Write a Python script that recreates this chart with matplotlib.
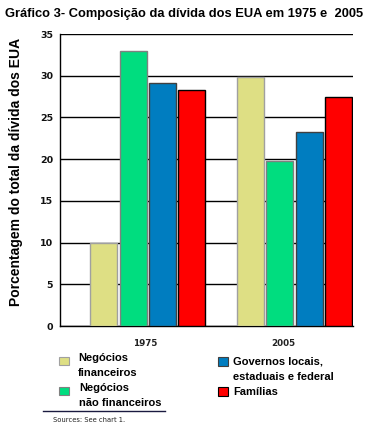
#!/usr/bin/env python3
"""
Gráfico 3 - Composição da dívida dos EUA em 1975 e 2005
"""

import matplotlib
matplotlib.use('Agg')
import matplotlib.pyplot as plt
from matplotlib.patches import Rectangle
from matplotlib.lines import Line2D

# Data
years = ['1975', '2005']
categories = ['Negócios\nfinanceiros', 'Negócios\nnão financeiros',
              'Governos locais,\nestaduais e federal', 'Famílias']
values_1975 = [10.0, 33.0, 29.1, 28.3]
values_2005 = [29.8, 19.8, 23.3, 27.4]
yticks = [0, 5, 10, 15, 20, 25, 30, 35]

colors = ['#DEDF84', '#00DD7F', '#007DC0', '#FF0000']
edges = ['#A0A0A0', '#808080', '#404040', '#000000']

W, H = 372, 432
fig = plt.figure(figsize=(W / 100, H / 100), dpi=100)
plt.rcParams['font.family'] = ['Liberation Sans', 'DejaVu Sans']


def px(x0, y0, x1, y1):
    """pixel box (top-left origin) -> figure fraction rect"""
    return [x0 / W, 1 - y1 / H, (x1 - x0) / W, (y1 - y0) / H]


ax = fig.add_axes(px(60, 34, 353, 326))

for g, vals in enumerate([values_1975, values_2005]):
    for k, v in enumerate(vals):
        ax.bar(g * 5 + k, v, width=0.92, color=colors[k],
               edgecolor=edges[k], linewidth=1.0, zorder=3)

ax.set_xlim(-1.5, 8.5)
ax.set_ylim(0, 35)
ax.set_yticks(yticks)
ax.set_yticklabels([str(t) for t in yticks], fontsize=6.8, fontweight='bold',
                   family='DejaVu Sans', color='#111111')
ax.grid(axis='y', color='black', linewidth=1.0, zorder=0)
ax.set_xticks([])
ax.tick_params(axis='y', length=0, pad=5)
for side in ['right', 'top']:
    ax.spines[side].set_visible(False)
ax.spines['left'].set_linewidth(1.0)
ax.spines['bottom'].set_linewidth(1.0)

# y label
fig.text(16 / W, 1 - 172 / H, 'Porcentagem do total da dívida dos EUA',
         fontsize=10, fontweight='bold', rotation=90, ha='center', va='center')

# Year labels under groups
for x, yr in zip([145, 283], years):
    fig.text(x / W, 1 - 344 / H, yr, fontsize=6.3, fontweight='bold',
             family='DejaVu Sans', ha='center', va='center', color='#222222')

# Title
fig.text(5 / W, 1 - 14 / H, 'Gráfico 3- Composição da dívida dos EUA em 1975 e  2005',
         fontsize=9.3, fontweight='bold', ha='left', va='center')

# Legend (manual layout): patch box, text x, first line centre y
leg_items = [
    ((59, 357, 69, 365), 78, 358, 0),
    ((59, 387, 69, 395), 79, 388, 1),
    ((218, 357, 228, 366), 233, 362, 2),
    ((218, 387, 228, 396), 233, 392, 3),
]
for (x0, y0, x1, y1), tx, ty, k in leg_items:
    fig.patches.append(Rectangle((x0 / W, 1 - y1 / H), (x1 - x0) / W,
                                 (y1 - y0) / H, transform=fig.transFigure,
                                 facecolor=colors[k], edgecolor=edges[k],
                                 linewidth=0.8))
    for i, line in enumerate(categories[k].split('\n')):
        fig.text(tx / W, 1 - (ty + i * 14.5) / H, line, fontsize=8,
                 fontweight='bold', ha='left', va='center')

fig.lines.append(Line2D([43 / W, 165 / W], [1 - 411 / H, 1 - 411 / H],
                        transform=fig.transFigure, color='#1a1a40',
                        linewidth=1.0))
fig.text(53 / W, 1 - 420 / H, 'Sources: See chart 1.', fontsize=4.9,
         family='DejaVu Sans', ha='left', va='center', color='#222222')

fig.savefig('out.png', dpi=100)
